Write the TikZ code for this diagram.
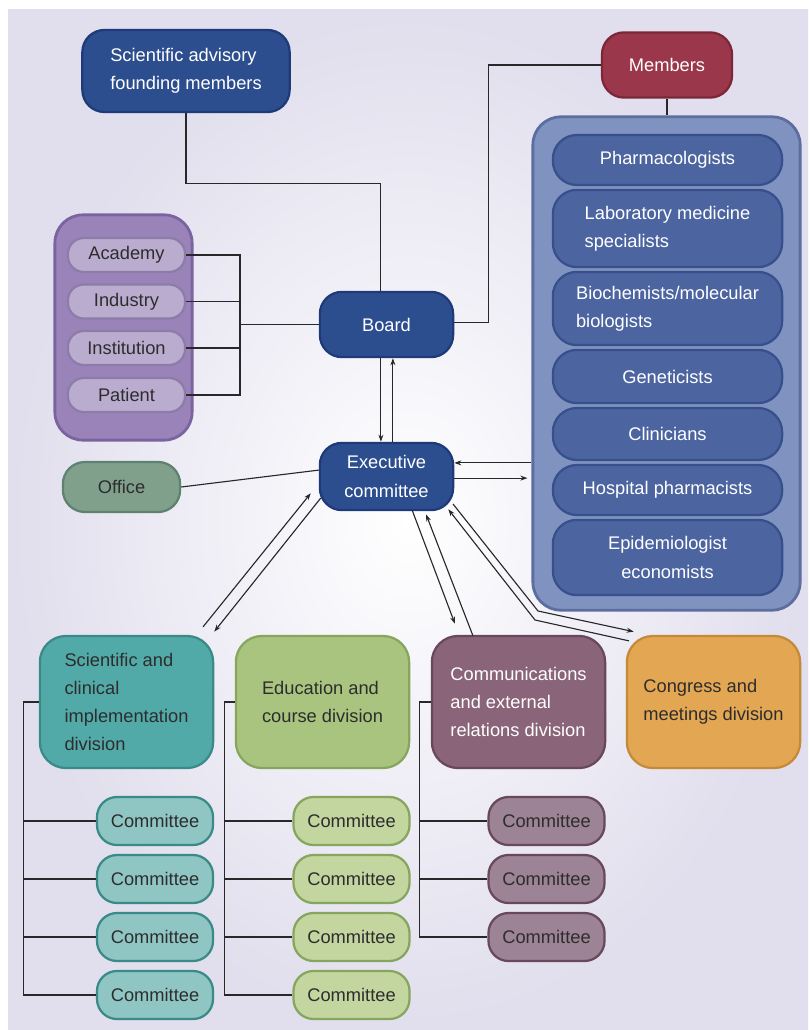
\documentclass[tikz,border=0pt]{standalone}
\usepackage{fontspec}
\setmainfont{Liberation Sans}
\usetikzlibrary{arrows.meta}

% colours
\definecolor{bgout}{RGB}{225,222,237}
\definecolor{ink}{RGB}{45,45,45}
\definecolor{linec}{RGB}{40,40,40}
\definecolor{bluef}{RGB}{45,78,142}
\definecolor{bluee}{RGB}{30,58,120}
\definecolor{redf}{RGB}{155,55,75}
\definecolor{rede}{RGB}{125,38,56}
\definecolor{grpf}{RGB}{128,147,192}
\definecolor{grpe}{RGB}{92,110,160}
\definecolor{itemf}{RGB}{76,101,160}
\definecolor{iteme}{RGB}{55,80,140}
\definecolor{purf}{RGB}{154,131,185}
\definecolor{pure}{RGB}{122,100,160}
\definecolor{lilf}{RGB}{186,172,206}
\definecolor{lile}{RGB}{140,124,168}
\definecolor{offf}{RGB}{128,160,140}
\definecolor{offe}{RGB}{94,130,112}
\definecolor{tealf}{RGB}{82,170,168}
\definecolor{teale}{RGB}{58,138,136}
\definecolor{greenf}{RGB}{169,196,127}
\definecolor{greene}{RGB}{134,166,94}
\definecolor{mauvef}{RGB}{138,100,121}
\definecolor{mauvee}{RGB}{104,72,92}
\definecolor{orangef}{RGB}{227,167,84}
\definecolor{orangee}{RGB}{196,138,56}
\definecolor{lteal}{RGB}{143,198,195}
\definecolor{lgreen}{RGB}{195,214,160}
\definecolor{lmauve}{RGB}{156,131,149}

\newcommand{\boxfont}{\fontsize{13}{20}\selectfont}

\tikzset{
  box/.style 2 args={draw=#2, fill=#1, line width=1.6pt, rounded corners=0.55cm,
    inner sep=1pt, font=\boxfont, align=center},
  bluebox/.style={box={bluef}{bluee}, text=white},
  redbox/.style={box={redf}{rede}, text=white},
  grpbox/.style={box={grpf}{grpe}, line width=2pt, rounded corners=0.7cm},
  itembox/.style={box={itemf}{iteme}, text=white, minimum width=5.73cm, rounded corners=0.6cm},
  stkbox/.style={box={purf}{pure}, line width=2pt, rounded corners=0.7cm},
  lilbox/.style={box={lilf}{lile}, text=ink, minimum width=2.93cm, minimum height=0.85cm, rounded corners=0.4cm},
  divbox/.style={text=ink, minimum width=4.33cm, minimum height=3.3cm, align=left, rounded corners=0.65cm},
  combox/.style={text=ink, minimum width=2.9cm, minimum height=1.2cm, rounded corners=0.5cm},
  link/.style={draw=linec, line width=0.8pt},
  arr/.style={link, -{Stealth[length=5pt,width=3.5pt]}},
}

\begin{document}
\begin{tikzpicture}[x=0.025cm, y=-0.025cm]
  \useasboundingbox (0,0) rectangle (808,1030);
  \shade[inner color=white, outer color=bgout] (8,10) rectangle (808,1030);

  % top boxes
  \node[bluebox, minimum width=5.18cm, minimum height=2.05cm, align=left] (sab) at (186,71) {Scientific advisory\\founding members};
  \node[redbox, minimum width=3.25cm, minimum height=1.63cm] (mem) at (667,65) {Members};

  % members group
  \node[grpbox, minimum width=6.68cm, minimum height=12.33cm] (grp) at (666.5,363.5) {};
  \node[itembox, minimum height=1.25cm] (pha) at (667.5,160) {Pharmacologists};
  \node[itembox, minimum height=1.93cm, align=left] (lab) at (667.5,228.5) {Laboratory medicine\\specialists};
  \node[itembox, minimum height=1.83cm, align=left] (bio) at (667.5,308.5) {Biochemists/molecular\\biologists};
  \node[itembox, minimum height=1.33cm] (gen) at (667.5,376.5) {Geneticists};
  \node[itembox, minimum height=1.3cm] (cli) at (667.5,434) {Clinicians};
  \node[itembox, minimum height=1.25cm] (hos) at (667.5,490) {Hospital pharmacists};
  \node[itembox, minimum height=1.88cm] (epi) at (667.5,557.5) {Epidemiologist\\economists};

  % stakeholders
  \node[stkbox, minimum width=3.43cm, minimum height=5.63cm] (stk) at (123.5,327.5) {};
  \node[lilbox] (aca) at (126.5,255) {Academy};
  \node[lilbox] (ind) at (126.5,301.5) {Industry};
  \node[lilbox] (ins) at (126.5,348) {Institution};
  \node[lilbox] (pat) at (126.5,395) {Patient};

  % board and executive
  \node[bluebox, minimum width=3.33cm, minimum height=1.63cm] (board) at (386.5,324.5) {Board};
  \node[bluebox, minimum width=3.33cm, minimum height=1.68cm] (exec) at (386.5,476.5) {Executive\\committee};
  \node[box={offf}{offe}, text=ink, minimum width=2.93cm, minimum height=1.25cm, rounded corners=0.55cm] (off) at (121.5,487) {Office};

  % divisions
  \node[box={tealf}{teale}, divbox] (sci) at (126.5,702) {Scientific and\\clinical\\implementation\\division};
  \node[box={greenf}{greene}, divbox] (edu) at (322.5,702) {Education and\\course division};
  \node[box={mauvef}{mauvee}, divbox, text=white] (com) at (518.5,702) {Communications\\and external\\relations division};
  \node[box={orangef}{orangee}, divbox] (con) at (713.5,702) {Congress and\\meetings division};

  % committees
  \foreach \i/\y in {1/821,2/879,3/937,4/995} {
    \node[box={lteal}{teale}, combox] (sc\i) at (155,\y) {Committee};
    \node[box={lgreen}{greene}, combox] (ed\i) at (351.5,\y) {Committee};
  }
  \foreach \i/\y in {1/821,2/879,3/937} {
    \node[box={lmauve}{mauvee}, combox] (co\i) at (546.5,\y) {Committee};
  }

  % tree lines
  \foreach \i in {1,...,4} {
    \draw[link] (sci.west) -- ++(-15,0) |- (sc\i.west);
    \draw[link] (edu.west) -- ++(-10,0) |- (ed\i.west);
  }
  \foreach \i in {1,...,3}
    \draw[link] (com.west) -- ++(-11,0) |- (co\i.west);

  % board links
  \draw[link] (sab.south) -- ++(0,70) -| ([xshift=-0.16cm]board.north);
  \draw[link] (mem.west) -- ++(-112,0) |- ([yshift=0.06cm]board.east);
  \draw[link] (mem.south) -- (grp.north -| mem.south);
  \coordinate (lbus) at (240,324.5);
  \foreach \n in {aca,ind,ins,pat}
    \draw[link] (\n.east) -| (lbus);
  \draw[link] (lbus) -- (board.west);

  % board and executive
  \draw[arr] ([xshift=-0.14cm]board.south) -- ([xshift=-0.14cm]exec.north);
  \draw[arr] ([xshift=0.16cm]exec.north) -- ([xshift=0.16cm]board.south);

  % executive and members
  \coordinate (ea1) at ([yshift=0.34cm]exec.east);
  \coordinate (ea2) at ([yshift=-0.04cm]exec.east);
  \draw[arr] (ea1 -| grp.west) -- (ea1);
  \draw[arr] (ea2) -- ([xshift=-0.1cm]ea2 -| grp.west);

  % office
  \draw[link] (off.east) -- ([yshift=0.16cm]exec.west);

  % executive and divisions
  \draw[arr] ([xshift=-0.28cm,yshift=0.2cm]sci.north east) -- ([xshift=-0.2cm,yshift=0.45cm]exec.south west);
  \draw[arr] ([xshift=0.05cm,yshift=0.33cm]exec.south west) -- ([yshift=0.08cm]sci.north east);
  \draw[arr] ([xshift=0.64cm,yshift=0.03cm]exec.south) -- ([xshift=-1.59cm,yshift=0.28cm]com.north);
  \draw[arr] ([xshift=-1.14cm,yshift=-0.02cm]com.north) -- ([xshift=0.99cm,yshift=-0.08cm]exec.south);
  \coordinate (cb1) at (535,620);
  \coordinate (cb2) at (538,611);
  \draw[arr] ([xshift=0.08cm,yshift=-0.15cm]con.north west) -- (cb1) -- ([xshift=-0.15cm,yshift=0.05cm]exec.south east);
  \draw[arr] ([xshift=-0.03cm,yshift=0.18cm]exec.south east) -- (cb2) -- ([xshift=0.2cm,yshift=0.08cm]con.north west);
\end{tikzpicture}
\end{document}
